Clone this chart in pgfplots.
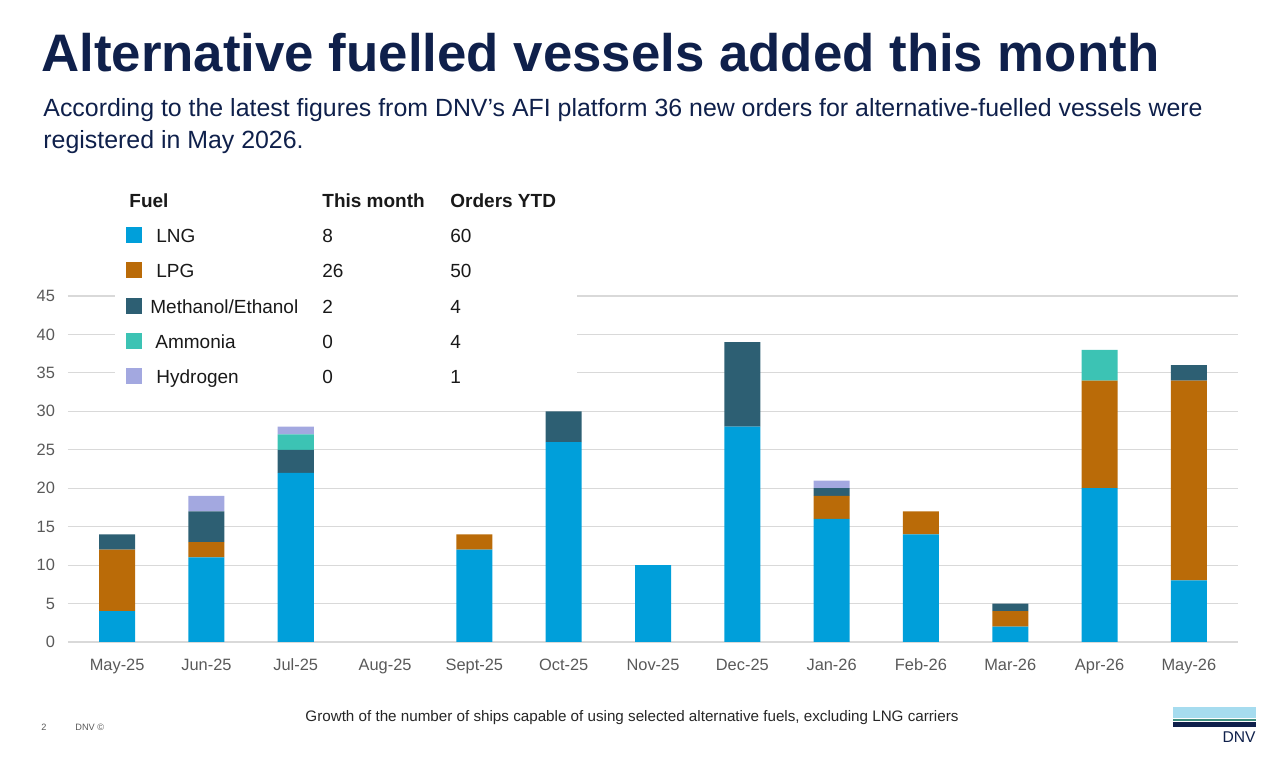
\documentclass[border=0pt]{standalone}
\usepackage{pgfplots}
\pgfplotsset{compat=1.18}
\usepackage{fontspec}
\setmainfont{Liberation Sans}

\definecolor{navy}{HTML}{0F204B}
\definecolor{lng}{HTML}{009FDA}
\definecolor{lpg}{HTML}{BA6B08}
\definecolor{meth}{HTML}{2D5F73}
\definecolor{amm}{HTML}{3CC3B4}
\definecolor{hyd}{HTML}{A3A8E0}
\definecolor{ticktext}{HTML}{595959}
\definecolor{gridgray}{HTML}{D9D9D9}
\definecolor{logoblue}{HTML}{A6DCEF}
\definecolor{logogreen}{HTML}{3E8E7E}

\begin{document}
\begin{tikzpicture}
% page frame: 1280 x 760 units of 0.5pt
\path[use as bounding box] (0pt,0pt) rectangle (640pt,380pt);

\begin{axis}[
  at={(34pt,59pt)}, anchor=south west,
  width=585pt, height=173pt, scale only axis,
  ybar stacked, bar width=18pt,
  xmin=-0.55, xmax=12.55,
  ymin=0, ymax=45,
  ytick={0,5,...,45},
  xtick={0,...,12},
  xticklabels={May-25,Jun-25,Jul-25,Aug-25,Sept-25,Oct-25,Nov-25,Dec-25,Jan-26,Feb-26,Mar-26,Apr-26,May-26},
  axis line style={draw=none},
  major tick length=0pt,
  ymajorgrids, grid style={gridgray, line width=0.6pt},
  /pgf/number format/assume math mode=true,
  tick label style={font=\fontsize{8.2pt}{9.5pt}\selectfont, text=ticktext},
  yticklabel style={xshift=-3pt},
  xticklabel style={yshift=-4.5pt, text height=6pt, text depth=1.7pt},
  every axis plot/.append style={draw=none},
  clip=false,
]
% LNG
\addplot[fill=lng] coordinates {(0,4) (1,11) (2,22) (3,0) (4,12) (5,26) (6,10) (7,28) (8,16) (9,14) (10,2) (11,20) (12,8)};
% LPG
\addplot[fill=lpg] coordinates {(0,8) (1,2) (2,0) (3,0) (4,2) (5,0) (6,0) (7,0) (8,3) (9,3) (10,2) (11,14) (12,26)};
% Methanol/Ethanol
\addplot[fill=meth] coordinates {(0,2) (1,4) (2,3) (3,0) (4,0) (5,4) (6,0) (7,11) (8,1) (9,0) (10,1) (11,0) (12,2)};
% Ammonia
\addplot[fill=amm] coordinates {(0,0) (1,0) (2,2) (3,0) (4,0) (5,0) (6,0) (7,0) (8,0) (9,0) (10,0) (11,4) (12,0)};
% Hydrogen
\addplot[fill=hyd] coordinates {(0,0) (1,2) (2,1) (3,0) (4,0) (5,0) (6,0) (7,0) (8,1) (9,0) (10,0) (11,0) (12,0)};
\end{axis}

\begin{scope}[x=0.5pt,y=0.5pt]
% title and subtitle
\node[anchor=base west, inner sep=0, text=navy, font=\fontsize{26.4pt}{30pt}\selectfont\bfseries]
  at (41,688) {Alternative fuelled vessels added this month};
\node[anchor=base west, inner sep=0, text=navy, font=\fontsize{12.45pt}{14pt}\selectfont]
  at (43,643.5) {According to the latest figures from DNV’s AFI platform 36 new orders for alternative-fuelled vessels were};
\node[anchor=base west, inner sep=0, text=navy, font=\fontsize{12.45pt}{14pt}\selectfont]
  at (43,611) {registered in May 2026.};

% fuel table over the upper grid area
\fill[white] (115,365) rectangle (577,575);
\begin{scope}[every node/.style={anchor=base west, inner sep=0, text=black!90, font=\fontsize{9.5pt}{11pt}\selectfont}]
\node[font=\fontsize{9.5pt}{11pt}\selectfont\bfseries] at (129,552) {Fuel};
\node[font=\fontsize{9.5pt}{11pt}\selectfont\bfseries] at (322,552) {This month};
\node[font=\fontsize{9.5pt}{11pt}\selectfont\bfseries] at (450,552) {Orders YTD};
\fill[lng]  (126,517) rectangle (142,533);
\node at (156,517) {LNG};            \node at (322,517) {8};  \node at (450,517) {60};
\fill[lpg]  (126,482) rectangle (142,498);
\node at (156,482) {LPG};            \node at (322,482) {26}; \node at (450,482) {50};
\fill[meth] (126,446) rectangle (142,462);
\node at (150,446) {Methanol/Ethanol}; \node at (322,446) {2}; \node at (450,446) {4};
\fill[amm]  (126,411) rectangle (142,427);
\node at (155,411) {Ammonia};        \node at (322,411) {0};  \node at (450,411) {4};
\fill[hyd]  (126,376) rectangle (142,392);
\node at (156,376) {Hydrogen};       \node at (322,376) {0};  \node at (450,376) {1};
\end{scope}

% footer
\node[anchor=base west, inner sep=0, text=ticktext, font=\fontsize{4.6pt}{5pt}\selectfont] at (41,29) {2};
\node[anchor=base west, inner sep=0, text=ticktext, font=\fontsize{4.6pt}{5pt}\selectfont] at (75,29) {DNV ©};
\node[anchor=base, inner sep=0, text=black!85, font=\fontsize{7.6pt}{8.5pt}\selectfont] at (632,38)
  {Growth of the number of ships capable of using selected alternative fuels, excluding LNG carriers};

% logo
\fill[logoblue]  (1173,42) rectangle (1256,53);
\fill[logogreen] (1173,38.5) rectangle (1256,40.5);
\fill[navy]      (1173,32.5) rectangle (1256,37.5);
\node[anchor=base east, inner sep=0, text=navy, font=\fontsize{7.8pt}{9pt}\selectfont] at (1256,17) {DNV};
\end{scope}
\end{tikzpicture}
\end{document}
